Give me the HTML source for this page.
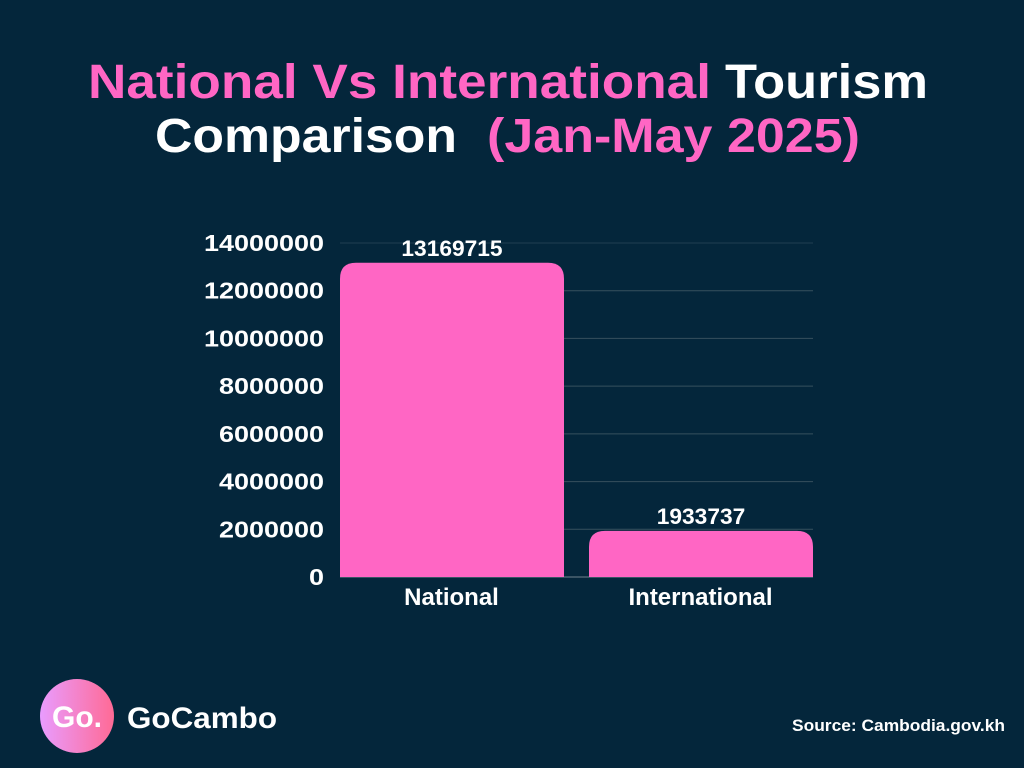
<!DOCTYPE html>
<html lang="en">
<head>
<meta charset="utf-8">
<title>National Vs International Tourism Comparison</title>
<style>
html,body{margin:0;padding:0;background:#04263b;}
body{width:1024px;height:768px;overflow:hidden;}
svg{display:block;}
text{font-family:"Liberation Sans",sans-serif;fill:#fff;}
</style>
</head>
<body>
<svg id="chart" width="1024" height="768" viewBox="0 0 1024 768" xmlns="http://www.w3.org/2000/svg">
  <defs>
    <linearGradient id="logoGradient" x1="0" x2="1" y1="0" y2="0">
      <stop offset="0" stop-color="#e99cff"/>
      <stop offset="1" stop-color="#ff6a95"/>
    </linearGradient>
  </defs>
  <rect width="1024" height="768" fill="#04263b"/>
  <g font-weight="700" font-size="48">
    <text x="88" y="98" textLength="623" lengthAdjust="spacingAndGlyphs" style="fill:#ff66c4">National Vs International</text>
    <text x="725" y="98" textLength="203" lengthAdjust="spacingAndGlyphs">Tourism</text>
    <text x="155" y="152" textLength="302" lengthAdjust="spacingAndGlyphs">Comparison</text>
    <text x="487" y="152" textLength="373" lengthAdjust="spacingAndGlyphs" style="fill:#ff66c4">(Jan-May 2025)</text>
  </g>
  <g id="grid"></g>
  <g id="yaxis"></g>
  <g id="bars"></g>
  <g id="values"></g>
  <g id="xaxis"></g>
  <g>
    <circle cx="77" cy="716" r="37" fill="url(#logoGradient)"/>
    <text x="52" y="727" font-size="30" font-weight="700" textLength="50" lengthAdjust="spacingAndGlyphs">Go.</text>
    <text x="127" y="728" font-size="30" font-weight="700" textLength="150" lengthAdjust="spacingAndGlyphs">GoCambo</text>
  </g>
  <text x="792" y="731" font-size="17" font-weight="700" textLength="213" lengthAdjust="spacingAndGlyphs">Source: Cambodia.gov.kh</text>
</svg>
<script>
const categories = ['National', 'International'];
const seriesValues = [13169715, 1933737];
const yTicks = [0, 2000000, 4000000, 6000000, 8000000, 10000000, 12000000, 14000000];

const NS = 'http://www.w3.org/2000/svg';
const plot = { left: 340, right: 813, top: 243, bottom: 577 };
const yMax = yTicks[yTicks.length - 1];
const bandGap = 25;
const bandWidth = (plot.right - plot.left - bandGap * (categories.length - 1)) / categories.length;
const cornerRadius = 16;

function yScale(v) {
  return plot.bottom - (v / yMax) * (plot.bottom - plot.top);
}
function xScale(i) {
  return plot.left + i * (bandWidth + bandGap);
}
function make(tag, parentId, attrs, txt) {
  const el = document.createElementNS(NS, tag);
  for (const k in attrs) el.setAttribute(k, attrs[k]);
  if (txt !== undefined) el.textContent = txt;
  document.getElementById(parentId).appendChild(el);
  return el;
}

yTicks.forEach(function (t, i) {
  const y = yScale(t);
  const line = make('line', 'grid', {
    x1: plot.left, x2: plot.right, y1: y, y2: y,
    stroke: t === 0 ? '#6f838e' : (i === yTicks.length - 1 ? '#1f3f51' : '#36505e'),
    'stroke-width': 1
  });
  
  

  const label = String(t);
  const tick = make('text', 'yaxis', {
    x: 324, y: y + 8, 'text-anchor': 'end', 'font-size': 23, 'font-weight': 700,
    textLength: label.length * 15, lengthAdjust: 'spacingAndGlyphs'
  }, label);
  
  
});

categories.forEach(function (c, i) {
  const x = xScale(i);
  const w = bandWidth;
  const top = yScale(seriesValues[i]);
  const r = Math.min(cornerRadius, plot.bottom - top);
  const bar = make('path', 'bars', {
    d: 'M' + x + ' ' + plot.bottom + 'V' + (top + r) + 'Q' + x + ' ' + top + ' ' + (x + r) + ' ' + top +
       'H' + (x + w - r) + 'Q' + (x + w) + ' ' + top + ' ' + (x + w) + ' ' + (top + r) + 'V' + plot.bottom + 'Z',
    fill: '#ff66c4'
  });
  
  

  const valueText = String(seriesValues[i]);
  const val = make('text', 'values', {
    x: x + w / 2, y: top - 7, 'text-anchor': 'middle', 'font-size': 22, 'font-weight': 700,
    textLength: valueText.length * 12.65, lengthAdjust: 'spacingAndGlyphs'
  }, valueText);
  
  

  const cat = make('text', 'xaxis', {
    x: x + w / 2 - 0.5, y: 605, 'text-anchor': 'middle', 'font-size': 24, 'font-weight': 700
  }, c);
  
  
});
</script>
</body>
</html>
